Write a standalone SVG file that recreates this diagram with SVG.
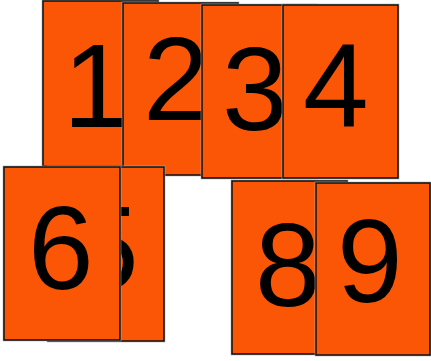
<svg xmlns="http://www.w3.org/2000/svg" width="431" height="361" viewBox="0 0 431 361">
<style>
.halo{fill:none;stroke:#b0b0b0;stroke-width:2.6}
.box{fill:#fb5605;stroke:#111;stroke-width:1.5}
.lbl{font-family:"Liberation Sans",Arial,sans-serif;font-size:118px;fill:#000}
</style>
<rect width="431" height="361" fill="#fff"/>
<g id="connectors"></g>
<g id="node1"><rect class="halo" x="43" y="1" width="115" height="165"/><rect class="box" x="43" y="1" width="115" height="165"/><text class="lbl" x="63" y="127">1</text></g>
<g id="node2"><rect class="halo" x="123" y="3" width="115" height="172"/><rect class="box" x="123" y="3" width="115" height="172"/><text class="lbl" x="143" y="120">2</text></g>
<g id="node3"><rect class="halo" x="202" y="5" width="115" height="173"/><rect class="box" x="202" y="5" width="115" height="173"/><text class="lbl" x="222" y="130">3</text></g>
<g id="node4"><rect class="halo" x="283" y="5" width="115" height="173"/><rect class="box" x="283" y="5" width="115" height="173"/><text class="lbl" x="303" y="127">4</text></g>
<g id="node5"><rect class="halo" x="48" y="167" width="116" height="174"/><rect class="box" x="48" y="167" width="116" height="174"/><text class="lbl" x="73" y="289">5</text></g>
<g id="node6"><rect class="halo" x="4" y="167" width="116" height="173"/><rect class="box" x="4" y="167" width="116" height="173"/><text class="lbl" x="28" y="289">6</text></g>
<g id="node8"><rect class="halo" x="232" y="181" width="115" height="173"/><rect class="box" x="232" y="181" width="115" height="173"/><text class="lbl" x="255" y="306">8</text></g>
<g id="node9"><rect class="halo" x="316" y="183" width="114" height="172"/><rect class="box" x="316" y="183" width="114" height="172"/><text class="lbl" x="337" y="302">9</text></g>
</svg>
